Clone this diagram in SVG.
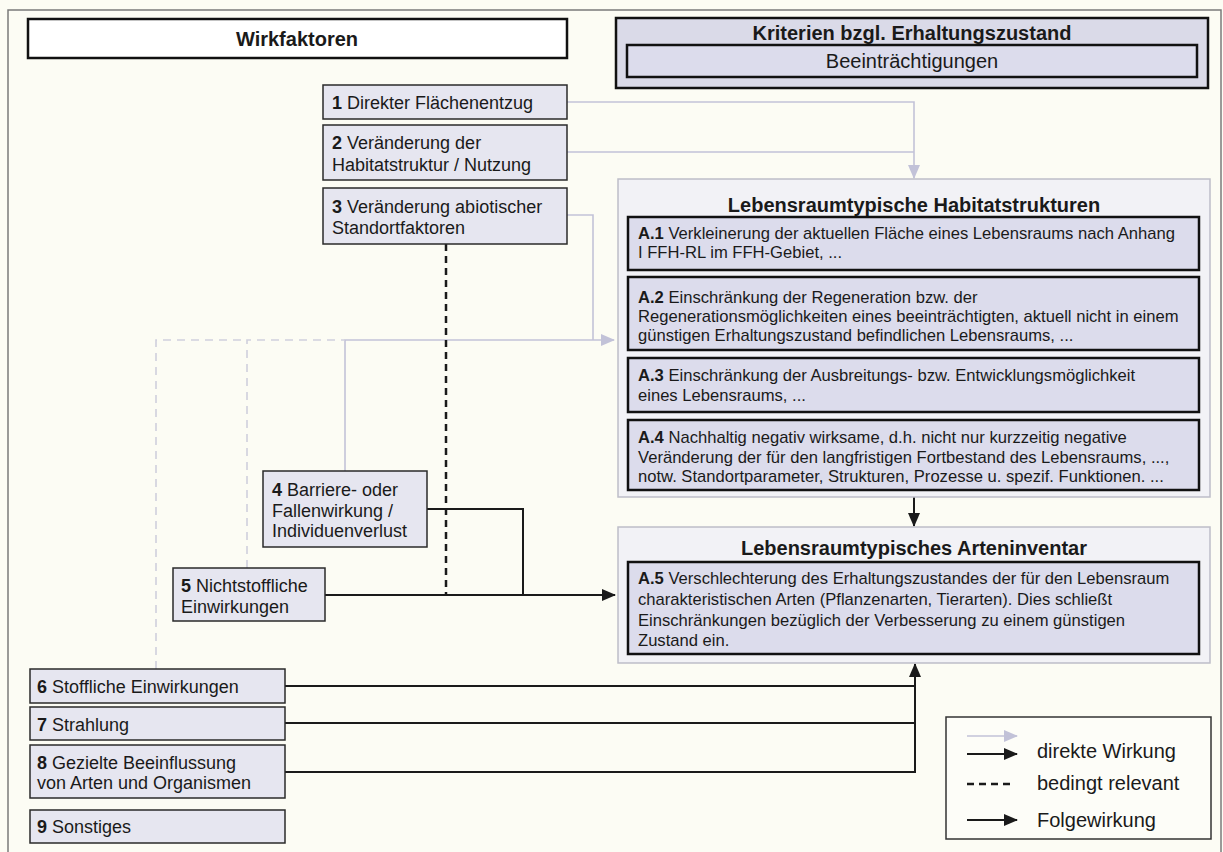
<svg xmlns="http://www.w3.org/2000/svg" width="1223" height="852" viewBox="0 0 1223 852">
  <defs>
    <marker id="headDark" markerUnits="userSpaceOnUse" markerWidth="14" markerHeight="12" refX="13" refY="6" orient="auto">
      <path d="M0,0 L14,6 L0,12 z" fill="#1a1a1a"/>
    </marker>
    <marker id="headLight" markerUnits="userSpaceOnUse" markerWidth="14" markerHeight="12" refX="13" refY="6" orient="auto">
      <path d="M0,0 L14,6 L0,12 z" fill="#c2c2d8"/>
    </marker>
    <style>
      text { font-family: "Liberation Sans", Arial, sans-serif; fill: #1a1a1a; }
      .node rect { fill: #e6e6f0; stroke: #2a2a2a; stroke-width: 1.5; }
      .node text { font-size: 18px; }
      .crit rect { fill: #dcdcec; stroke: #111; stroke-width: 2.5; }
      .crit text { font-size: 16.6px; }
      .group { fill: #f2f2f6; stroke: #bdbdc8; stroke-width: 1.5; }
      .title { font-size: 20px; font-weight: bold; text-anchor: middle; }
      b, .b { font-weight: bold; }
      .light { fill: none; stroke: #c2c2d8; stroke-width: 1.6; }
      .lightdash { fill: none; stroke: #cfcfdd; stroke-width: 1.6; stroke-dasharray: 8 6; }
      .dark { fill: none; stroke: #1a1a1a; stroke-width: 2; }
      .darkdash { fill: none; stroke: #1a1a1a; stroke-width: 2.5; stroke-dasharray: 7 5; }
      .legend text { font-size: 20px; }
    </style>
  </defs>

  <!-- page -->
  <rect x="0" y="0" width="1223" height="852" fill="#fcfcf4"/>
  <path d="M8,860 L8,10 L1221,10 L1221,860" fill="none" stroke="#7a7a7a" stroke-width="1.5"/>

  <!-- headers -->
  <g id="header-wirkfaktoren">
    <rect x="28" y="19" width="539" height="39" fill="#ffffff" stroke="#111" stroke-width="2.5"/>
    <text class="title" x="297" y="46">Wirkfaktoren</text>
  </g>
  <g id="header-kriterien">
    <rect x="616" y="18" width="592" height="70" fill="#dadae8" stroke="#111" stroke-width="2.5"/>
    <text class="title" x="912" y="40">Kriterien bzgl. Erhaltungszustand</text>
    <rect x="627" y="45" width="570" height="32" fill="#dcdcec" stroke="#111" stroke-width="2.5"/>
    <text x="912" y="68" font-size="20" text-anchor="middle">Beeinträchtigungen</text>
  </g>

  <!-- connectors -->
  <g id="connectors">
    <!-- direct effects onto habitat structures -->
    <polyline class="light" points="567,102 914,102 914,178" marker-end="url(#headLight)"/>
    <polyline class="light" points="567,152 914,152"/>
    <polyline class="light" points="567,215 593,215 593,340"/>
    <polyline class="light" points="345,471 345,340 614,340" marker-end="url(#headLight)"/>
    <polyline class="lightdash" points="247,568 247,340 345,340"/>
    <polyline class="lightdash" points="156,669 156,340 247,340"/>
    <!-- conditionally relevant -->
    <line class="darkdash" x1="446" y1="244" x2="446" y2="595"/>
    <!-- effects onto species inventory -->
    <polyline class="dark" points="427,509 523,509 523,595"/>
    <polyline class="dark" points="325,595 615,595" marker-end="url(#headDark)"/>
    <line class="dark" x1="914" y1="497" x2="914" y2="526" marker-end="url(#headDark)"/>
    <polyline class="dark" points="285,686 915,686"/>
    <polyline class="dark" points="285,723 915,723"/>
    <polyline class="dark" points="285,772 915,772 915,664" marker-end="url(#headDark)"/>
  </g>

  <!-- impact factors -->
  <g id="node-1" class="node">
    <rect x="323" y="85" width="244" height="34"/>
    <text x="332" y="109"><tspan class="b">1</tspan> Direkter Flächenentzug</text>
  </g>
  <g id="node-2" class="node">
    <rect x="323" y="125" width="244" height="55"/>
    <text x="332" y="149"><tspan class="b">2</tspan> Veränderung der</text>
    <text x="332" y="171">Habitatstruktur / Nutzung</text>
  </g>
  <g id="node-3" class="node">
    <rect x="323" y="188" width="244" height="56"/>
    <text x="332" y="213"><tspan class="b">3</tspan> Veränderung abiotischer</text>
    <text x="332" y="234">Standortfaktoren</text>
  </g>
  <g id="node-4" class="node">
    <rect x="263" y="471" width="164" height="76"/>
    <text x="272" y="496"><tspan class="b">4</tspan> Barriere- oder</text>
    <text x="272" y="517">Fallenwirkung /</text>
    <text x="272" y="537">Individuenverlust</text>
  </g>
  <g id="node-5" class="node">
    <rect x="173" y="568" width="152" height="53"/>
    <text x="181" y="592"><tspan class="b">5</tspan> Nichtstoffliche</text>
    <text x="181" y="613">Einwirkungen</text>
  </g>
  <g id="node-6" class="node">
    <rect x="30" y="669" width="255" height="34"/>
    <text x="37" y="693"><tspan class="b">6</tspan> Stoffliche Einwirkungen</text>
  </g>
  <g id="node-7" class="node">
    <rect x="30" y="707" width="255" height="33"/>
    <text x="37" y="731"><tspan class="b">7</tspan> Strahlung</text>
  </g>
  <g id="node-8" class="node">
    <rect x="30" y="745" width="255" height="53"/>
    <text x="37" y="769"><tspan class="b">8</tspan> Gezielte Beeinflussung</text>
    <text x="37" y="789">von Arten und Organismen</text>
  </g>
  <g id="node-9" class="node">
    <rect x="30" y="810" width="255" height="33"/>
    <text x="37" y="833"><tspan class="b">9</tspan> Sonstiges</text>
  </g>

  <!-- habitat structures -->
  <g id="habitat-structures">
    <rect class="group" x="618" y="179" width="592" height="318"/>
    <text class="title" x="914" y="212">Lebensraumtypische Habitatstrukturen</text>
  </g>
  <g id="crit-a1" class="crit">
    <rect x="628" y="217" width="571" height="53"/>
    <text x="638" y="239"><tspan class="b">A.1</tspan> Verkleinerung der aktuellen Fläche eines Lebensraums nach Anhang</text>
    <text x="638" y="258">I FFH-RL im FFH-Gebiet, ...</text>
  </g>
  <g id="crit-a2" class="crit">
    <rect x="628" y="277" width="571" height="73"/>
    <text x="638" y="302.5"><tspan class="b">A.2</tspan> Einschränkung der Regeneration bzw. der</text>
    <text x="638" y="321.5">Regenerationsmöglichkeiten eines beeinträchtigten, aktuell nicht in einem</text>
    <text x="638" y="340.5">günstigen Erhaltungszustand befindlichen Lebensraums, ...</text>
  </g>
  <g id="crit-a3" class="crit">
    <rect x="628" y="358" width="571" height="54"/>
    <text x="638" y="381"><tspan class="b">A.3</tspan> Einschränkung der Ausbreitungs- bzw. Entwicklungsmöglichkeit</text>
    <text x="638" y="401">eines Lebensraums, ...</text>
  </g>
  <g id="crit-a4" class="crit">
    <rect x="628" y="420" width="571" height="70"/>
    <text x="638" y="443"><tspan class="b">A.4</tspan> Nachhaltig negativ wirksame, d.h. nicht nur kurzzeitig negative</text>
    <text x="638" y="462.5">Veränderung der für den langfristigen Fortbestand des Lebensraums, ...,</text>
    <text x="638" y="482">notw. Standortparameter, Strukturen, Prozesse u. spezif. Funktionen. ...</text>
  </g>

  <!-- species inventory -->
  <g id="species-inventory">
    <rect class="group" x="618" y="527" width="592" height="136"/>
    <text class="title" x="914" y="555">Lebensraumtypisches Arteninventar</text>
  </g>
  <g id="crit-a5" class="crit">
    <rect x="628" y="562" width="571" height="92"/>
    <text x="638" y="584"><tspan class="b">A.5</tspan> Verschlechterung des Erhaltungszustandes der für den Lebensraum</text>
    <text x="638" y="605">charakteristischen Arten (Pflanzenarten, Tierarten). Dies schließt</text>
    <text x="638" y="626">Einschränkungen bezüglich der Verbesserung zu einem günstigen</text>
    <text x="638" y="646">Zustand ein.</text>
  </g>

  <!-- legend -->
  <g id="legend" class="legend">
    <rect x="946" y="717" width="265" height="122" fill="#fdfdf8" stroke="#333" stroke-width="1.5"/>
    <line class="light" x1="967" y1="736" x2="1017" y2="736" marker-end="url(#headLight)"/>
    <line class="dark" x1="967" y1="754" x2="1017" y2="754" stroke="#333" marker-end="url(#headDark)"/>
    <text x="1037" y="758">direkte Wirkung</text>
    <line class="darkdash" x1="967" y1="784" x2="1015" y2="784" stroke-dasharray="9 7" stroke-width="2"/>
    <text x="1037" y="790">bedingt relevant</text>
    <line class="dark" x1="967" y1="820" x2="1017" y2="820" marker-end="url(#headDark)"/>
    <text x="1037" y="827">Folgewirkung</text>
  </g>
</svg>
